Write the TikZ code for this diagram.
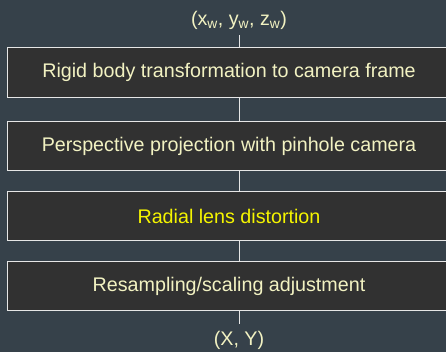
\documentclass[tikz,border=0pt]{standalone}
\usepackage{fontspec}
\setmainfont{Liberation Sans}
\usepackage{tikz}
\usetikzlibrary{positioning}
\definecolor{pipebg}{HTML}{36414A}
\definecolor{pipefill}{HTML}{313131}
\definecolor{pipeline}{HTML}{E6E6E6}
\definecolor{pipetext}{HTML}{F2F2C2}
\definecolor{pipehigh}{HTML}{F5F500}

\begin{document}
\begin{tikzpicture}[
    x=1pt, y=1pt,
    stagebox/.style={
        draw=pipeline,
        line width=0.9pt,
        fill=pipefill,
        minimum width=444pt,
        minimum height=49pt,
        inner sep=0pt,
        text=pipetext,
        font=\fontsize{19.7}{23}\selectfont
    },
    stagelabel/.style={
        text=pipetext,
        inner sep=1pt,
        font=\fontsize{19.7}{23}\selectfont
    },
    link/.style={
        draw=pipeline,
        line width=0.9pt
    }
]
    \fill[pipebg] (0,0) rectangle (446,352);
    \clip (0,0) rectangle (446,352);

    \node[stagelabel] (world) at (239,332) {(x\textsubscript{w}, y\textsubscript{w}, z\textsubscript{w})};
    \node[stagebox, minimum height=50pt] (rigid) at (229,280) {Rigid body transformation to camera frame};
    \node[stagebox, below=24pt of rigid] (persp) {Perspective projection with pinhole camera};
    \node[stagebox, below=20pt of persp, text=pipehigh] (radial) {Radial lens distortion};
    \node[stagebox, below=20pt of radial] (resample) {Resampling/scaling adjustment};
    \node[stagelabel] (image) at (239,12) {(X, Y)};

    \draw[link, shorten <=5pt] (world.south) -- (world.south |- rigid.north);
    \draw[link] (rigid.south -| world) -- (persp.north -| world);
    \draw[link] (persp.south -| world) -- (radial.north -| world);
    \draw[link] (radial.south -| world) -- (resample.north -| world);
    \draw[link, shorten >=6pt] (resample.south -| image) -- (image.north);
\end{tikzpicture}
\end{document}
